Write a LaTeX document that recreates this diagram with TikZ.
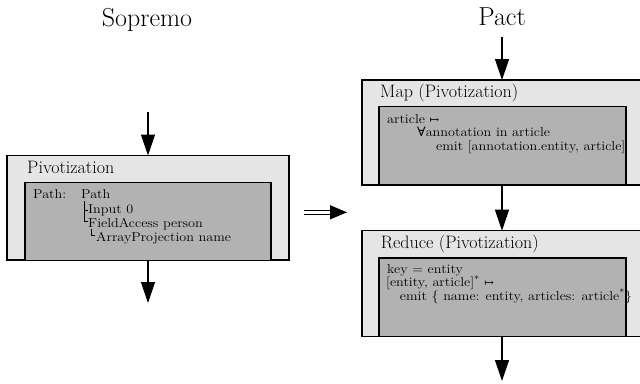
\documentclass[tikz,border=0pt]{standalone}
\usepackage{fontspec}
\usepackage{graphicx}
\newfontfamily\dvsymb{DejaVu Serif}
\newcommand{\ct}[1]{\scalebox{1.1}[1]{#1}}
\usetikzlibrary{arrows.meta,calc}
\tikzset{
  outerbox/.style={draw=black, line width=1.3pt, fill=black!10, inner sep=0pt, outer sep=0pt, anchor=north west},
  innerbox/.style={draw=black, line width=1.3pt, fill=black!30, inner sep=0pt, outer sep=0pt, anchor=north west},
  flow/.style={line width=1.3pt, -{Triangle[length=21pt,width=14pt]}},
  bigtitle/.style={font=\fontsize{26}{30}\selectfont, inner sep=0pt, anchor=base},
  boxtitle/.style={font=\fontsize{18}{21}\selectfont, inner sep=0pt, anchor=base west},
  code/.style={font=\fontsize{12.9}{15}\selectfont, inner sep=0pt, anchor=base west},
  tree/.style={line width=0.7pt}
}
\begin{document}
\begin{tikzpicture}[x=1pt,y=-1pt]
\clip (0,0) rectangle (640,383);
\fill[white] (0,0) rectangle (640,383);

% titles
\node[bigtitle] (sopremo) at (147,26) {Sopremo};
\node[bigtitle] (pact) at (502,25) {Pact};

% ---------------- Sopremo side
\node[outerbox, minimum width=282pt, minimum height=104.5pt] (piv) at (7,155.5) {};
\node[innerbox, minimum width=246pt, minimum height=78pt] (pivin) at (25,182.3) {};
\node[boxtitle] (pivt) at (27,173.3) {Pivotization};
\node[code] (p1) at (33,198) {\ct{Path:}};
\node[code] (p2) at (81,198) {\ct{Path}};
\node[code] (p3) at (88,213) {\ct{Input 0}};
\node[code] (p4) at (88,227.5) {\ct{FieldAccess person}};
\node[code] (p5) at (96,241.7) {\ct{ArrayProjection name}};
\draw[tree] (84,201) -- (84,221) -- (88,221);
\draw[tree] (84,210.5) -- (88,210.5);
\draw[tree] (91,229) -- (91,235.5) -- (95,235.5);

\coordinate (sin) at (148,112);
\coordinate (sintop) at (148,155.5);
\coordinate (sout) at (148,260);
\coordinate (soutend) at (148,303);
\draw[flow] (sin) -- (sintop);
\draw[flow] (sout) -- (soutend);

% implies arrow
\coordinate (ia) at (304,212.3);
\coordinate (ib) at (347,212.3);
\draw[line width=1.2pt, double distance=2.4pt, -{Triangle[length=17pt,width=14pt]}] (ia) -- (ib);

% ---------------- Pact side
\node[outerbox, minimum width=300pt, minimum height=105pt] (map) at (362,80) {};
\node[innerbox, minimum width=247pt, minimum height=78.3pt] (mapin) at (379,106.7) {};
\node[boxtitle] (mapt) at (380,97.3) {Map (Pivotization)};
\node[code] (m1) at (387,123) {\ct{article {\dvsymb\fontsize{10.5}{12}\selectfont ↦}}};
\node[code] (m2) at (417,136.7) {\ct{{\dvsymb ∀}annotation in article}};
\node[code] (m3) at (436,150) {\ct{emit [annotation.entity, article]}};

\node[outerbox, minimum width=300pt, minimum height=105.5pt] (red) at (362,230.7) {};
\node[innerbox, minimum width=247pt, minimum height=78.3pt] (redin) at (379,257.9) {};
\node[boxtitle] (redt) at (380.7,248.3) {Reduce (Pivotization)};
\node[code] (r1) at (387,273.3) {\ct{key = entity}};
\node[code] (r2) at (386,286.7) {\ct{[entity, article]\textsuperscript{*} {\dvsymb\fontsize{10.5}{12}\selectfont ↦}}};
\node[code] (r3) at (399.7,300) {\ct{emit \{ name: entity, articles: article\textsuperscript{*}\}}};

\coordinate (pin) at (502,37);
\coordinate (maptop) at (502,80);
\coordinate (mapbot) at (502,185);
\coordinate (redtop) at (502,230.7);
\coordinate (redbot) at (502,336.2);
\coordinate (pout) at (502,381);
\draw[flow] (pin) -- (maptop);
\draw[flow] (mapbot) -- (redtop);
\draw[flow] (redbot) -- (pout);
\end{tikzpicture}
\end{document}
